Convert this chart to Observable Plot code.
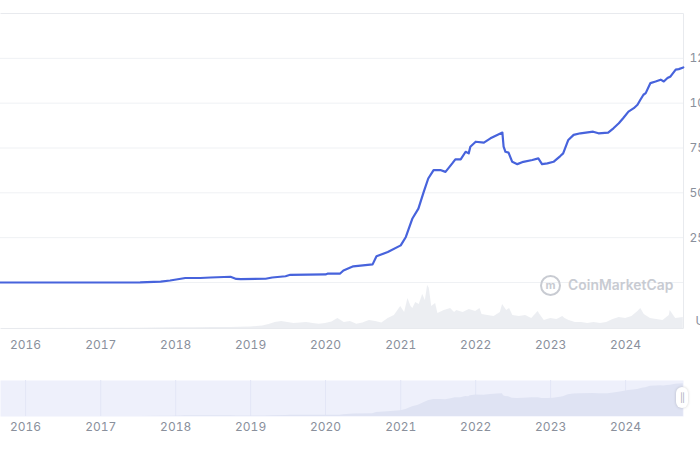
<!DOCTYPE html>
<html>
<head>
<meta charset="utf-8">
<script src="https://cdn.jsdelivr.net/npm/d3@7"></script>
<script src="https://cdn.jsdelivr.net/npm/@observablehq/plot@0.6"></script>
<style>
  html, body { margin: 0; padding: 0; background: #fff; overflow: hidden; }
  #wrap { position: relative; width: 700px; height: 450px; overflow: hidden; font-family: Inter, "Noto Sans", sans-serif; }
  #wrap svg { position: absolute; left: 0; background: transparent; }
  #wm { position: absolute; left: 540px; top: 274px; height: 22px; display: flex; align-items: center; color: #c8cbd2; font-weight: 600; font-size: 13.8px; letter-spacing: 0.1px; }
  #wm .logo { width: 17px; height: 17px; border: 2px solid #c8cbd2; border-radius: 50%; margin-right: 7px; display: flex; align-items: center; justify-content: center; font-size: 11px; font-weight: 700; line-height: 1; }
  #handle { position: absolute; left: 676px; top: 387px; width: 12px; height: 21px; background: #fff; border-radius: 6px; box-shadow: 0 0 3px rgba(0,0,0,0.18); display: flex; align-items: center; justify-content: center; color: #a6abb5; font-size: 9px; letter-spacing: -1px; }
</style>
</head>
<body>
<div id="wrap"></div>
<script>
// Market cap (billions USD)
const capDates = [
  "2015-09-01","2017-01-01","2017-07-12","2017-10-20","2017-12-05","2018-01-26","2018-02-17","2018-05-01",
  "2018-06-20","2018-09-25","2018-10-23","2018-11-14","2019-03-15","2019-04-16","2019-06-20","2019-07-13",
  "2020-01-01","2020-01-10","2020-03-12","2020-03-28","2020-05-15","2020-08-17","2020-09-05","2020-10-30",
  "2021-01-01","2021-01-26","2021-02-27","2021-03-28","2021-04-23","2021-05-15","2021-06-10","2021-07-13",
  "2021-08-07","2021-09-09","2021-09-24","2021-10-20","2021-11-13","2021-11-28","2021-12-06","2022-01-01",
  "2022-02-10","2022-03-14","2022-04-16","2022-05-11","2022-05-17","2022-05-26","2022-06-10","2022-06-28",
  "2022-07-23","2022-08-21","2022-10-04","2022-11-02","2022-11-20","2022-12-16","2023-01-15","2023-02-17",
  "2023-03-03","2023-03-28","2023-04-23","2023-05-26","2023-07-27","2023-08-22","2023-10-08","2023-11-03",
  "2023-11-29","2023-12-20","2024-01-15","2024-02-10","2024-02-28","2024-03-13","2024-03-28","2024-04-08",
  "2024-05-01","2024-05-26","2024-06-20","2024-07-05","2024-07-23","2024-08-07","2024-09-01","2024-09-16",
  "2024-10-08"
];
const capValues = [
  0.0, 0.01, 0.1, 0.5, 1.1, 2.1, 2.5, 2.5,
  2.8, 3.2, 2.0, 1.9, 2.1, 2.8, 3.5, 4.3,
  4.5, 4.9, 5.0, 6.7, 9.0, 10.1, 14.6, 17.0,
  20.7, 25.4, 35.7, 41.2, 50.5, 58.0, 62.7, 62.7,
  61.7, 66.4, 68.7, 68.7, 72.9, 72.0, 75.7, 78.5,
  78.0, 80.4, 82.3, 83.6, 75.7, 72.9, 72.4, 67.3,
  66.0, 67.3, 68.3, 69.2, 66.0, 66.4, 67.3, 70.5,
  72.0, 79.5, 82.3, 83.2, 84.1, 83.2, 83.6, 86.0,
  88.8, 91.6, 95.3, 97.2, 99.1, 101.9, 104.7, 105.6,
  111.2, 112.1, 113.1, 112.1, 114.0, 114.9, 118.7, 119.0,
  119.9
];

// Trading volume (billions USD)
const volDates = [
  "2015-09-01","2017-07-01","2017-10-01","2018-01-01","2018-04-01","2018-07-01","2018-10-01","2019-01-01",
  "2019-02-01","2019-03-01","2019-04-01","2019-05-01","2019-06-01","2019-07-01","2019-08-01","2019-09-01",
  "2019-10-01","2019-11-01","2019-12-01","2020-01-01","2020-02-01","2020-03-01","2020-04-01","2020-05-01",
  "2020-06-01","2020-07-01","2020-08-01","2020-09-01","2020-10-01","2020-11-01","2020-12-01","2021-01-01",
  "2021-01-20","2021-02-05","2021-02-20","2021-03-01","2021-03-15","2021-04-01","2021-04-18","2021-05-01",
  "2021-05-12","2021-05-20","2021-06-01","2021-06-20","2021-07-01","2021-08-01","2021-09-01","2021-09-20",
  "2021-10-01","2021-11-01","2021-12-01","2022-01-01","2022-01-22","2022-02-01","2022-03-01","2022-04-01",
  "2022-05-01","2022-05-12","2022-06-01","2022-06-15","2022-07-01","2022-08-01","2022-09-01","2022-10-01",
  "2022-11-01","2022-11-10","2022-12-01","2023-01-01","2023-02-01","2023-03-01","2023-03-12","2023-04-01",
  "2023-05-01","2023-06-01","2023-07-01","2023-08-01","2023-09-01","2023-10-01","2023-11-01","2023-12-01",
  "2024-01-01","2024-02-01","2024-03-01","2024-03-15","2024-04-01","2024-05-01","2024-06-01","2024-07-01",
  "2024-08-01","2024-08-05","2024-09-01","2024-10-08"
];
const volValues = [
  0, 2, 3, 5, 5, 7, 7, 10,
  14, 18, 28, 42, 49, 42, 35, 38,
  42, 35, 30, 35, 45, 70, 42, 49,
  30, 38, 56, 49, 38, 70, 91, 154,
  112, 210, 154, 140, 182, 168, 238, 196,
  300, 280, 154, 175, 105, 126, 140, 112,
  126, 112, 133, 119, 140, 98, 91, 84,
  112, 168, 126, 140, 91, 84, 91, 70,
  119, 98, 56, 70, 63, 84, 70, 56,
  42, 42, 35, 42, 35, 42, 63, 77,
  70, 84, 119, 140, 98, 70, 63, 56,
  91, 126, 70, 77
];

const yTicks = [25, 50, 75, 100, 125];
const gridValues = [0, 25, 50, 75, 100, 125];
const yearTicks = ["2016-01-01","2017-01-01","2018-01-01","2019-01-01","2020-01-01","2021-01-01","2022-01-01","2023-01-01","2024-01-01"];
const xDomainDates = ["2015-09-01", "2024-10-09"];
const unitLabel = ["USDT"];

const cap = capDates.map((d, i) => ({date: new Date(d), value: capValues[i]}));
const vol = volDates.map((d, i) => ({date: new Date(d), value: volValues[i]}));
const years = yearTicks.map(d => new Date(d));
const xDomain = xDomainDates.map(d => new Date(d));
const fmtYear = d3.utcFormat("%Y");
const textColor = "#8a909c";

const wrap = document.getElementById("wrap");

// Volume layer (beneath main)
const volPlot = Plot.plot({
  width: 700, height: 43,
  marginLeft: 0, marginRight: 17, marginTop: 0, marginBottom: 0,
  style: {background: "transparent"},
  x: {type: "utc", domain: xDomain, axis: null},
  y: {domain: [0, 300], axis: null},
  marks: [
    Plot.areaY(vol, {x: "date", y: "value", fill: "#e9ebf0", fillOpacity: 0.85})
  ]
});
volPlot.style.top = "285px";
wrap.appendChild(volPlot);

// Main chart
const main = Plot.plot({
  width: 700, height: 360,
  marginLeft: 0, marginRight: 17, marginTop: 13, marginBottom: 32,
  style: {background: "transparent", fontFamily: "Inter, 'Noto Sans', sans-serif", fontSize: "12px", color: textColor},
  x: {type: "utc", domain: xDomain},
  y: {domain: [0, 150], range: [282, 13]},
  marks: [
    Plot.ruleY(gridValues, {stroke: "#eff1f4"}),
    Plot.frame({stroke: "#e8eaee", strokeDasharray: "1681,315"}),
    Plot.line(cap, {x: "date", y: "value", stroke: "#4763dc", strokeWidth: 2.2}),
    Plot.axisY({anchor: "right", ticks: yTicks, tickSize: 0, tickPadding: 6, tickFormat: d => d + "B", label: null}),
    Plot.axisX({ticks: years, tickSize: 0, tickPadding: 12, tickFormat: fmtYear, label: null}),
    Plot.text(unitLabel, {frameAnchor: "bottom-right", dx: 12, dy: -4, textAnchor: "start", fill: textColor})
  ]
});
main.style.top = "0px";
wrap.appendChild(main);

// Navigator
const nav = Plot.plot({
  width: 700, height: 80,
  marginLeft: 0, marginRight: 17, marginTop: 10, marginBottom: 34,
  style: {background: "transparent", fontFamily: "Inter, 'Noto Sans', sans-serif", fontSize: "12px", color: textColor},
  x: {type: "utc", domain: xDomain},
  y: {domain: [0, 132], axis: null},
  marks: [
    Plot.frame({fill: "#eef0fb", stroke: "none"}),
    Plot.ruleX(years, {stroke: "#e3e6f6"}),
    Plot.areaY(cap, {x: "date", y: "value", fill: "#dfe3f3"}),
    Plot.axisX({ticks: years, tickSize: 0, tickPadding: 6, tickFormat: fmtYear, label: null})
  ]
});
nav.style.top = "370px";
wrap.appendChild(nav);

// Watermark and handle (decoration)
const wm = document.createElement("div");
wm.id = "wm";
wm.innerHTML = '<span class="logo">m</span><span>CoinMarketCap</span>';
wrap.appendChild(wm);
const handle = document.createElement("div");
handle.id = "handle";
handle.textContent = "||";
wrap.appendChild(handle);
</script>
</body>
</html>
